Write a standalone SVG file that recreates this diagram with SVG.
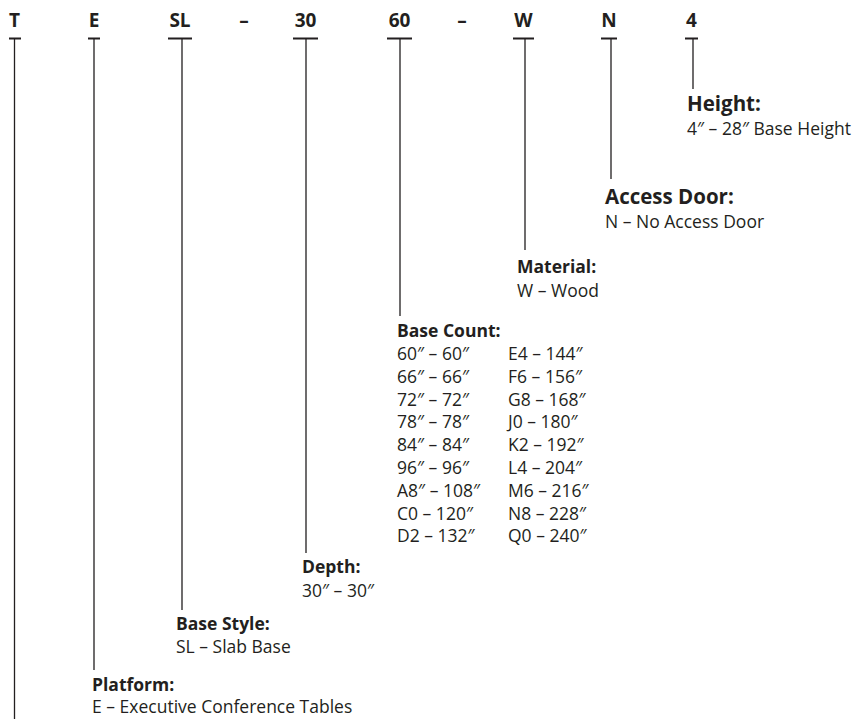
<svg xmlns="http://www.w3.org/2000/svg" width="857" height="719" viewBox="0 0 857 719">
<style>
.code{font-family:"Open Sans","Noto Sans",sans-serif;font-weight:bold;font-size:19px;fill:#231f20;text-anchor:middle}
.h1{font-family:"Open Sans","Noto Sans",sans-serif;font-weight:bold;font-size:20.5px;fill:#231f20}
.h2{font-family:"Open Sans","Noto Sans",sans-serif;font-weight:bold;font-size:17.5px;fill:#231f20}
.t{font-family:"Open Sans","Noto Sans",sans-serif;font-size:17.5px;fill:#231f20}
.bar{stroke:#231f20;stroke-width:2.2;fill:none}
.ln{stroke:#231f20;stroke-width:1.3;fill:none}
</style>
<rect width="857" height="719" fill="#fff"/>
<g id="code">
<text class="code" x="14.5" y="27">T</text>
<text class="code" x="94" y="27">E</text>
<text class="code" x="180" y="27">SL</text>
<text class="code" x="244" y="27">–</text>
<text class="code" x="305.5" y="27">30</text>
<text class="code" x="399.5" y="27">60</text>
<text class="code" x="462" y="27">–</text>
<text class="code" x="523.5" y="27">W</text>
<text class="code" x="609" y="27">N</text>
<text class="code" x="691.5" y="27">4</text>
</g>
<g id="connectors">
<path class="bar" d="M9 38.5H21M88 38.5H100M168 38.5H192M293 38.5H318M387 38.5H412M513 38.5H534M601 38.5H617M685 38.5H698"/>
<path class="ln" d="M14.5 38.5V719M94 38.5V670M182 38.5V610M306 38.5V553M400 38.5V316M525 38.5V250M611 38.5V179M693 38.5V89"/>
</g>
<g id="height">
<text class="h1" x="687" y="111">Height:</text>
<text class="t" x="687" y="135">4″ – 28″ Base Height</text>
</g>
<g id="access-door">
<text class="h1" x="605" y="204">Access Door:</text>
<text class="t" x="605" y="228">N – No Access Door</text>
</g>
<g id="material">
<text class="h2" x="517" y="273">Material:</text>
<text class="t" x="517" y="297">W – Wood</text>
</g>
<g id="base-count">
<text class="h2" x="397" y="337">Base Count:</text>
<text class="t" x="397" y="360">60″ – 60″</text>
<text class="t" x="397" y="383">66″ – 66″</text>
<text class="t" x="397" y="406">72″ – 72″</text>
<text class="t" x="397" y="428">78″ – 78″</text>
<text class="t" x="397" y="451">84″ – 84″</text>
<text class="t" x="397" y="474">96″ – 96″</text>
<text class="t" x="397" y="497">A8″ – 108″</text>
<text class="t" x="397" y="520">C0 – 120″</text>
<text class="t" x="397" y="542">D2 – 132″</text>
<text class="t" x="508" y="360">E4 – 144″</text>
<text class="t" x="508" y="383">F6 – 156″</text>
<text class="t" x="508" y="406">G8 – 168″</text>
<text class="t" x="508" y="428">J0 – 180″</text>
<text class="t" x="508" y="451">K2 – 192″</text>
<text class="t" x="508" y="474">L4 – 204″</text>
<text class="t" x="508" y="497">M6 – 216″</text>
<text class="t" x="508" y="520">N8 – 228″</text>
<text class="t" x="508" y="542">Q0 – 240″</text>
</g>
<g id="depth">
<text class="h2" x="302" y="573">Depth:</text>
<text class="t" x="302" y="597">30″ – 30″</text>
</g>
<g id="base-style">
<text class="h2" x="176" y="630">Base Style:</text>
<text class="t" x="176" y="653">SL – Slab Base</text>
</g>
<g id="platform">
<text class="h2" x="92" y="691">Platform:</text>
<text class="t" x="92" y="713">E – Executive Conference Tables</text>
</g>
</svg>
